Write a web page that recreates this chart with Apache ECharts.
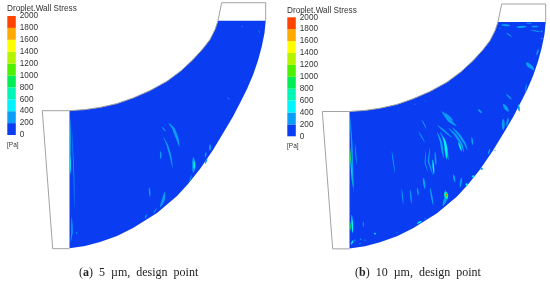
<!DOCTYPE html>
<html>
<head>
<meta charset="utf-8">
<script src="https://cdn.jsdelivr.net/npm/echarts@6/dist/echarts.min.js"></script>
<style>html,body{margin:0;padding:0;background:#fff}#c{width:550px;height:284px;filter:blur(0.45px)}</style>
</head>
<body>
<div id="c"></div>
<script>
// Contour levels of the legend, in Pa
const levels = [0,200,400,600,800,1000,1200,1400,1600,1800,2000];
const bandColors = ['#0a3cf2','#0a9ef8','#00f4ff','#00f5b8','#00ee55','#4cf000','#b4f400','#ffff00','#ffaa00','#ff4400'];
const legendTitle = 'Droplet.Wall Stress';
const legendUnit = '[Pa]';
const captionA = '({b|a})  5  µm,  design  point';
const captionB = '({b|b})  10  µm,  design  point';

// Geometry (same frame for both panels)
const innerWall = [[69.5,110.7],[85,109.6],[100,107.4],[117,103.6],[133,98],[150,90.6],[167,81.2],[181,70.8],[193,59.6],[203,48.6],[210,39.5],[215,29.5],[218,20.7]];
const outerWall = [[265.7,20.7],[264.5,33],[261.7,46.7],[258,60.5],[253,75],[247,89],[240,103],[233,116.5],[225,130],[213,150],[200,169],[188,184],[177,196],[157,213],[133,228],[117,236],[100,242],[85,246],[69.5,248.3]];
const inletOutline = [[69.5,110.7],[42.3,110.7],[52.7,248.7],[69.5,248.7]];
const outletOutline = [[218,20.7],[221.7,2.7],[265.7,2.7],[265.7,20.7]];

// Streaks: [band, width, [x,y], [x,y], ...]
const streaksA = [
 [1,2.8,[168.3,122.7],[173.3,128.3],[177.3,138.3],[179.3,146.7]],
 [1,1.8,[163.3,136.7],[167.3,145],[170.7,156.7],[172.7,168.3]],
 [1,1.6,[160.7,150.7],[160.7,159.3]],
 [1,1,[161.7,126.7],[166,131.7]],
 [1,3.4,[193.3,157],[194,165],[193.3,173]],
 [2,1.6,[194,160.7],[194.3,169]],
 [4,1,[194,162],[194,165]],
 [1,2,[210,144],[210,151]],
 [1,1.5,[206,151.7],[205.3,157.5]],
 [1,1.5,[207.3,158.3],[205,164]],
 [1,1.1,[191.7,175],[189.3,181.7]],
 [1,2.8,[165,191.5],[163.3,200],[160,207.5]],
 [1,1.6,[149.3,187],[150,197]],
 [1,1.5,[146.7,214.5],[145,218.5]],
 [1,1.1,[156.7,208],[153.3,213.5]],
 [1,1.1,[70.5,117],[70.5,143],[70.7,167]],
 [2,0.9,[70.5,155],[70.5,175]],
 [1,0.8,[72,130],[74,177],[74.3,210]],
 [1,1.6,[71.7,217],[72,232],[70.7,242]],
 [1,1.2,[76.7,232],[76.7,234]],
 [1,0.7,[121.7,125.5],[122,126.5]],
 [1,0.7,[227,97],[230,100]],
 [1,0.7,[258.3,30],[260,33.3]],
 [1,0.7,[241,26],[243,27]]
];
const streaksB = [
 [1,3,[161.7,110.4],[170,120.4],[176.7,125.4]],
 [1,2.2,[168.3,127],[175,133.7],[181.7,143.7],[184,152]],
 [1,2.2,[172,126.5],[179,134],[185,143],[187.5,150]],
 [2,1.6,[178.3,141],[181.7,151]],
 [1,2.2,[157,131],[161,141],[162.5,151],[164,158]],
 [1,2.2,[160,131],[165,141],[167,151],[168.5,160]],
 [2,2.4,[163.3,136],[166,147],[166.5,159]],
 [3,1.6,[165,146],[165.7,152]],
 [4,1.2,[166.7,156],[166.7,157]],
 [4,1.2,[180.7,144.2],[180.7,145.2]],
 [1,1.4,[150,147],[148.3,160.4],[153.3,175.4]],
 [1,1.6,[155,150.4],[156,165.4]],
 [1,1,[146,150],[145,162],[148,172]],
 [2,1.6,[152.7,158.7],[154,173.7]],
 [1,1,[141.7,118.7],[146.7,128.7]],
 [1,1,[138.3,130.4],[145,142]],
 [1,2.2,[143.3,177],[145,188.7]],
 [1,1.4,[130,188.7],[131.7,203.7]],
 [1,1.6,[137.3,187],[138.3,195.4]],
 [1,1.6,[150,187],[153.3,205.4]],
 [1,2,[173.3,173.7],[175,182]],
 [1,2,[181.7,177],[180,187]],
 [2,2.4,[193.3,176],[193.3,176.8]],
 [2,2.4,[186.7,184],[186.7,184.8]],
 [1,2.4,[201.7,168.3],[201.7,169.1]],
 [1,3.4,[165,189.5],[166.7,196],[162.7,206]],
 [3,4,[165.3,191],[167,198.5]],
 [5,2.6,[166,193],[167,196.5]],
 [9,1.2,[166.5,194.3],[166.7,195.1]],
 [1,1.6,[191.7,136],[192.7,144.5]],
 [1,1.6,[210,148],[208.3,154]],
 [1,1.4,[215,150],[215,150.8]],
 [1,3,[223.3,118],[223.3,129.5]],
 [1,2,[228.3,116.5],[226.7,126]],
 [2,1,[145,218.4],[145,219]],
 [2,1.6,[136.7,223.4],[141.7,220.7]],
 [1,1.2,[116.7,232],[116.7,232.8]],
 [1,1.8,[165,112],[173.3,120.4]],
 [1,1.6,[157,124],[172,137]],
 [1,1,[135,103.4],[135.5,104]],
 [1,1,[145,100],[145.5,100.6]],
 [1,0.8,[118.3,110],[118.8,110.6]],
 [1,1.6,[70,115.4],[71.7,142],[72.7,175.4],[74,192]],
 [3,1,[70,150],[72.7,187]],
 [5,0.6,[70,146],[70.3,162]],
 [2,1.6,[71.7,214.5],[72.7,233]],
 [4,0.8,[70,221],[71,231]],
 [1,1,[75,143],[76.7,164.5]],
 [1,1,[111.7,150],[115,172.5]],
 [1,1,[121.7,188],[123.3,204.5]],
 [1,1,[83.3,221],[83.3,227]],
 [2,1.8,[95,233.3],[95,234.1]],
 [1,1.4,[75,240],[75,240.8]],
 [1,1.4,[80.7,239],[80.7,239.8]],
 [1,1.4,[85,240],[85,240.8]],
 [1,1.4,[80,243.3],[80,244.1]],
 [2,1.6,[71,244.5],[73.3,240]],
 [1,2.2,[221,23.7],[230.5,24.4]],
 [1,2.2,[236,26],[247,25.4]],
 [1,1.1,[246,22],[252,22]],
 [1,1.6,[251,25.4],[259,25.4]],
 [1,1.1,[250,28.7],[261.7,31]],
 [4,1.3,[261.7,30],[261.7,30.8]],
 [3,1.1,[261.7,37.3],[261.7,38.1]],
 [1,1.2,[220,27.3],[220,28.1]],
 [1,1.1,[226,31.5],[232,35.8]],
 [1,3.6,[246,61.5],[252,67.5]],
 [1,2.6,[249.5,63],[254,69.5]],
 [1,1.5,[226,93],[232,99]],
 [1,3.4,[223,103],[228.6,111]],
 [1,2,[198,108.2],[202,112.5]],
 [1,2,[238.2,103],[239.4,111]],
 [1,1.1,[246.7,83],[245,92.5]],
 [1,1.6,[256.5,54.5],[258.5,48]]
];

function streakShape(points, width) {
  const seg = [0];
  for (let i = 1; i < points.length; i++) {
    seg.push(seg[i-1] + Math.hypot(points[i][0]-points[i-1][0], points[i][1]-points[i-1][1]));
  }
  const total = seg[seg.length-1];
  if (total < 1.5) {
    return {type:'circle', shape:{cx:points[0][0], cy:points[0][1], r:width/2}};
  }
  const n = Math.max(8, Math.round(total));
  const left = [], right = [];
  for (let k = 0; k <= n; k++) {
    const t = k/n, d = t*total;
    let i = 1;
    while (i < seg.length-1 && seg[i] < d) i++;
    const a = points[i-1], b = points[i], f = (d-seg[i-1])/(seg[i]-seg[i-1]);
    const nx = -(b[1]-a[1])/(seg[i]-seg[i-1]), ny = (b[0]-a[0])/(seg[i]-seg[i-1]);
    const hw = width/2*Math.pow(Math.sin(Math.PI*t),0.7);
    const x = a[0]+(b[0]-a[0])*f, y = a[1]+(b[1]-a[1])*f;
    left.push([x+nx*hw,y+ny*hw]); right.unshift([x-nx*hw,y-ny*hw]);
  }
  return {type:'polygon', shape:{points:left.concat(right)}};
}
function domainSeries(grid, streaks) {
  const ax = {xAxisIndex: grid, yAxisIndex: grid, silent: true, animation: false, clip: false};
  return [
    Object.assign({type:'custom', z:2, data:[0], renderItem:(p,api)=>({
      type:'polygon',
      shape:{points:innerWall.concat(outerWall).map(q=>api.coord(q))},
      style:{fill:bandColors[0]}
    })}, ax),
    Object.assign({type:'custom', z:3, data:streaks.map((s,i)=>i), renderItem:(p,api)=>{
      const s = streaks[p.dataIndex];
      return Object.assign(streakShape(s.slice(2).map(q=>api.coord(q)), s[1]), {style:{fill:bandColors[s[0]]}});
    }}, ax),
    Object.assign({type:'custom', z:4, data:[0,1,2], renderItem:(p,api)=>({
      type:'polyline',
      shape:{points:[innerWall,inletOutline,outletOutline][p.dataIndex].map(q=>api.coord(q))},
      style:{fill:null, stroke:'#a2a2a2', lineWidth:1}
    })}, ax)
  ];
}
function barSeries(grid) {
  return {type:'custom', xAxisIndex:grid, yAxisIndex:grid, silent:true, animation:false,
    data:bandColors.map((c,i)=>i),
    renderItem:(p,api)=>{
      const i = p.dataIndex, a = api.coord([0,levels[i]]), b = api.coord([1,levels[i+1]]);
      return {type:'rect', shape:{x:a[0],y:b[1],width:b[0]-a[0],height:a[1]-b[1]}, style:{fill:bandColors[i]}};
    }};
}
const hiddenX = (max)=>({type:'value',min:0,max:max,show:false});
const panelY = {type:'value',min:0,max:284,inverse:true,show:false};
const legendY = {type:'value',min:0,max:2000,interval:200,position:'right',
  axisLine:{show:false},axisTick:{show:false},splitLine:{show:false},
  axisLabel:{show:true,color:'#333',fontFamily:'Liberation Sans',fontSize:8.2,margin:4,formatter:(v)=>String(v)}};

const smallText = {fontFamily:'Liberation Sans',fontWeight:'normal',color:'#333'};
const capRich = {fontFamily:'Liberation Serif',fontSize:12,color:'#222',fontWeight:'normal',
  rich:{b:{fontFamily:'Liberation Serif',fontSize:12,fontWeight:'bold',color:'#222'}}};

const chart = echarts.init(document.getElementById('c'),null,{renderer:'canvas'});
chart.setOption({
  animation:false,
  backgroundColor:'#fff',
  title:[
    {text:legendTitle,left:7,top:5,padding:0,textStyle:Object.assign({fontSize:8.2},smallText)},
    {text:legendUnit,left:7,top:142,padding:0,textStyle:Object.assign({fontSize:6.5},smallText)},
    {text:legendTitle,left:287,top:6.3,padding:0,textStyle:Object.assign({fontSize:8.2},smallText)},
    {text:legendUnit,left:287,top:143,padding:0,textStyle:Object.assign({fontSize:6.5},smallText)},
    {text:captionA,left:79,top:267,padding:0,textStyle:capRich},
    {text:captionB,left:355,top:267,padding:0,textStyle:capRich}
  ],
  grid:[
    {left:0,top:0,width:270,height:284},
    {left:280,top:1.3,width:270,height:284},
    {left:7.3,top:16,width:8.5,height:119},
    {left:287.3,top:17.3,width:8.5,height:119}
  ],
  xAxis:[hiddenX(270),Object.assign(hiddenX(270),{gridIndex:1}),Object.assign(hiddenX(1),{gridIndex:2}),Object.assign(hiddenX(1),{gridIndex:3})],
  yAxis:[panelY,Object.assign({},panelY,{gridIndex:1}),Object.assign({},legendY,{gridIndex:2}),Object.assign({},legendY,{gridIndex:3})],
  series:[].concat(domainSeries(0,streaksA),domainSeries(1,streaksB),[barSeries(2),barSeries(3)])
});
</script>
</body>
</html>
